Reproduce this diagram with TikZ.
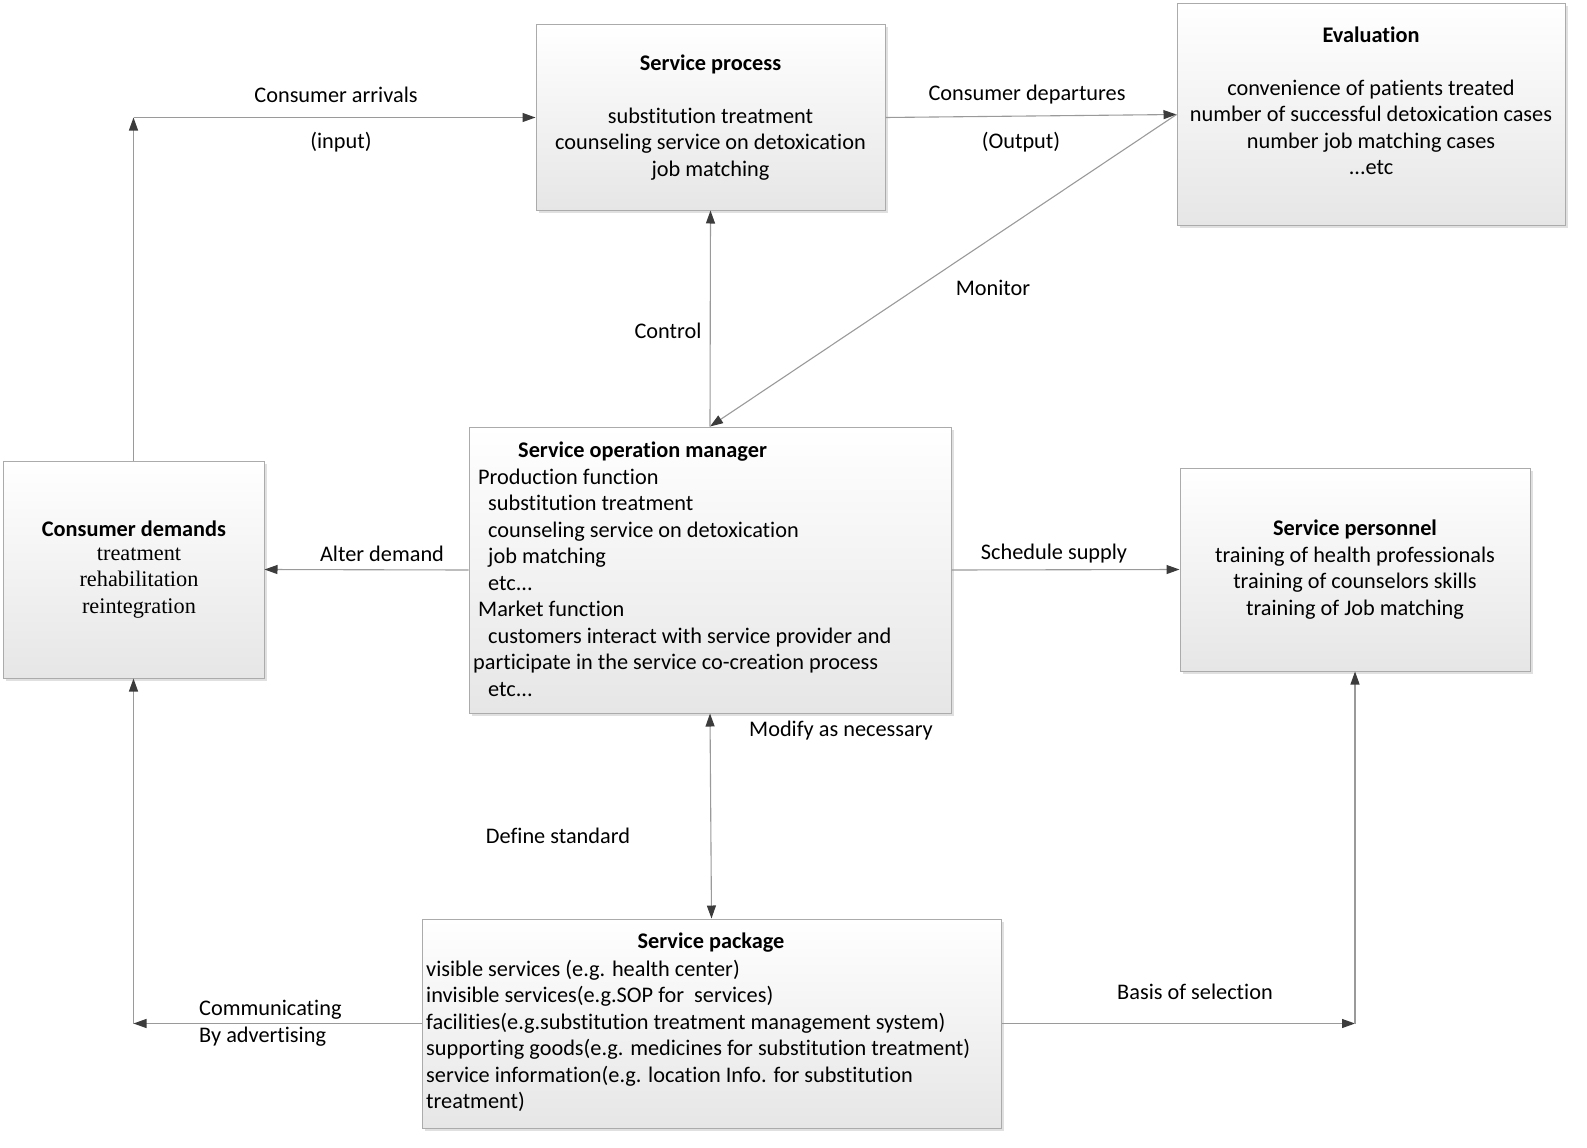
\documentclass[tikz,border=0pt]{standalone}
\usepackage{fontspec}
\setmainfont{Carlito}[Ligatures=NoCommon]
\newfontfamily\serifbody{Liberation Serif}
\usetikzlibrary{arrows.meta,shadows}
\definecolor{boxline}{HTML}{ABABAB}
\definecolor{conline}{HTML}{9A9A9A}
\definecolor{tipcol}{HTML}{3C3C3C}
\definecolor{boxbottom}{HTML}{E6E6E6}
\tikzset{
  boxnode/.style={draw=boxline, line width=1pt, top color=white, bottom color=boxbottom,
    inner sep=0pt, drop shadow={shadow xshift=2.5pt, shadow yshift=-2.5pt, fill=black, opacity=0.12}},
  txt/.style={inner sep=0pt, font=\fontsize{22.3}{26.5}\selectfont, align=center},
  ltxt/.style={inner sep=0pt, font=\fontsize{22.3}{26.5}\selectfont, align=left},
  conn/.style={draw=conline, line width=1.1pt, -{Triangle[length=13pt,width=9pt,color=tipcol]}},
  bconn/.style={draw=conline, line width=1.1pt, {Triangle[length=13pt,width=9pt,color=tipcol]}-{Triangle[length=13pt,width=9pt,color=tipcol]}},
}
\begin{document}
\begin{tikzpicture}[x=1pt,y=-1pt]
% boxes
\node[boxnode, minimum width=349pt, minimum height=185pt] (sproc) at (710.5,117.5) {};
\node[boxnode, minimum width=388pt, minimum height=221pt] (eval) at (1371,114.5) {};
\node[boxnode, minimum width=261pt, minimum height=217pt] (cd) at (133.5,569.5) {};
\node[boxnode, minimum width=482pt, minimum height=286pt] (som) at (710,570) {};
\node[boxnode, minimum width=350pt, minimum height=203pt] (spers) at (1355,569.5) {};
\node[boxnode, minimum width=579pt, minimum height=209pt] (spkg) at (711.5,1023.5) {};
% box texts
\node[txt] (sproct) at (710.5,117.5) {\textbf{Service process}\\[26.5pt]substitution treatment\\counseling service on detoxication\\job matching};
\node[txt] (evalt) at (1371,101) {\textbf{Evaluation}\\[26.5pt]convenience of patients treated\\number of successful detoxication cases\\number job matching cases\\...etc};
\node[txt] (cdtitle) at (134,529) {\textbf{Consumer demands}};
\node[txt, font=\fontsize{22.3}{26.8}\serifbody] (cdbody) at (139,583) {treatment\\rehabilitation\\reintegration};
\node[ltxt, anchor=west] (somt) at (473,569.5) {\hspace*{45pt}\textbf{Service operation manager}\\
\hspace*{5pt}Production function\\
\hspace*{15pt}substitution treatment\\
\hspace*{15pt}counseling service on detoxication\\
\hspace*{15pt}job matching\\
\hspace*{15pt}etc...\\
\hspace*{5pt}Market function\\
\hspace*{15pt}customers interact with service provider and\\
participate in the service co-creation process\\
\hspace*{15pt}etc...};
\node[txt] (sperst) at (1355,569.5) {\textbf{Service personnel}\\training of health professionals\\training of counselors skills\\training of Job matching};
\node[txt] (spkgtitle) at (711,943) {\textbf{Service package}};
\node[ltxt, anchor=west] (spkgt) at (426,1036) {visible services (e.g. health center)\\
invisible services(e.g.SOP for\ \ services)\\
facilities(e.g.substitution treatment management system)\\
supporting goods(e.g. medicines for substitution treatment)\\
service information(e.g. location Info. for substitution\\
treatment)};
% corner coordinates
\coordinate (c1) at (cd.north |- sproc.west);
\coordinate (c2) at (cd.south |- spkg.west);
\coordinate (c3) at (spers.south |- spkg.east);
% connectors
\draw[conn] (cd.north) -- (c1);
\draw[conn] (c1) -- (sproc.west);
\draw[conn] (sproc.east) -- (eval.west);
\draw[conn] (eval.west) -- (som.north);
\draw[conn] (som.north) -- (sproc.south);
\draw[conn] (som.west) -- (cd.east);
\draw[conn] (som.east) -- (spers.west);
\draw[bconn] (som.south) -- (spkg.north);
\draw[conn] (spkg.west) -- (c2);
\draw[conn] (c2) -- (cd.south);
\draw[conn] (spkg.east) -- (c3);
\draw[conn] (c3) -- (spers.south);
% labels
\node[txt] (l1) at (336,95) {Consumer arrivals};
\node[txt] (l2) at (341,142) {(input)};
\node[txt] (l3) at (1027,95) {Consumer departures};
\node[txt] (l4) at (1021,142) {(Output)};
\node[txt] (l5) at (993,288) {Monitor};
\node[txt] (l6) at (668,331) {Control};
\node[txt] (l7) at (382,554) {Alter demand};
\node[txt] (l8) at (1054,554) {Schedule supply};
\node[txt] (l9) at (841,731) {Modify as necessary};
\node[txt] (l10) at (558,836) {Define standard};
\node[ltxt, anchor=west] (l11) at (199,1023) {Communicating\\By advertising};
\node[txt] (l12) at (1195,992) {Basis of selection};
\pgfresetboundingbox
\useasboundingbox (0,0) rectangle (1587,1148);
\end{tikzpicture}
\end{document}
